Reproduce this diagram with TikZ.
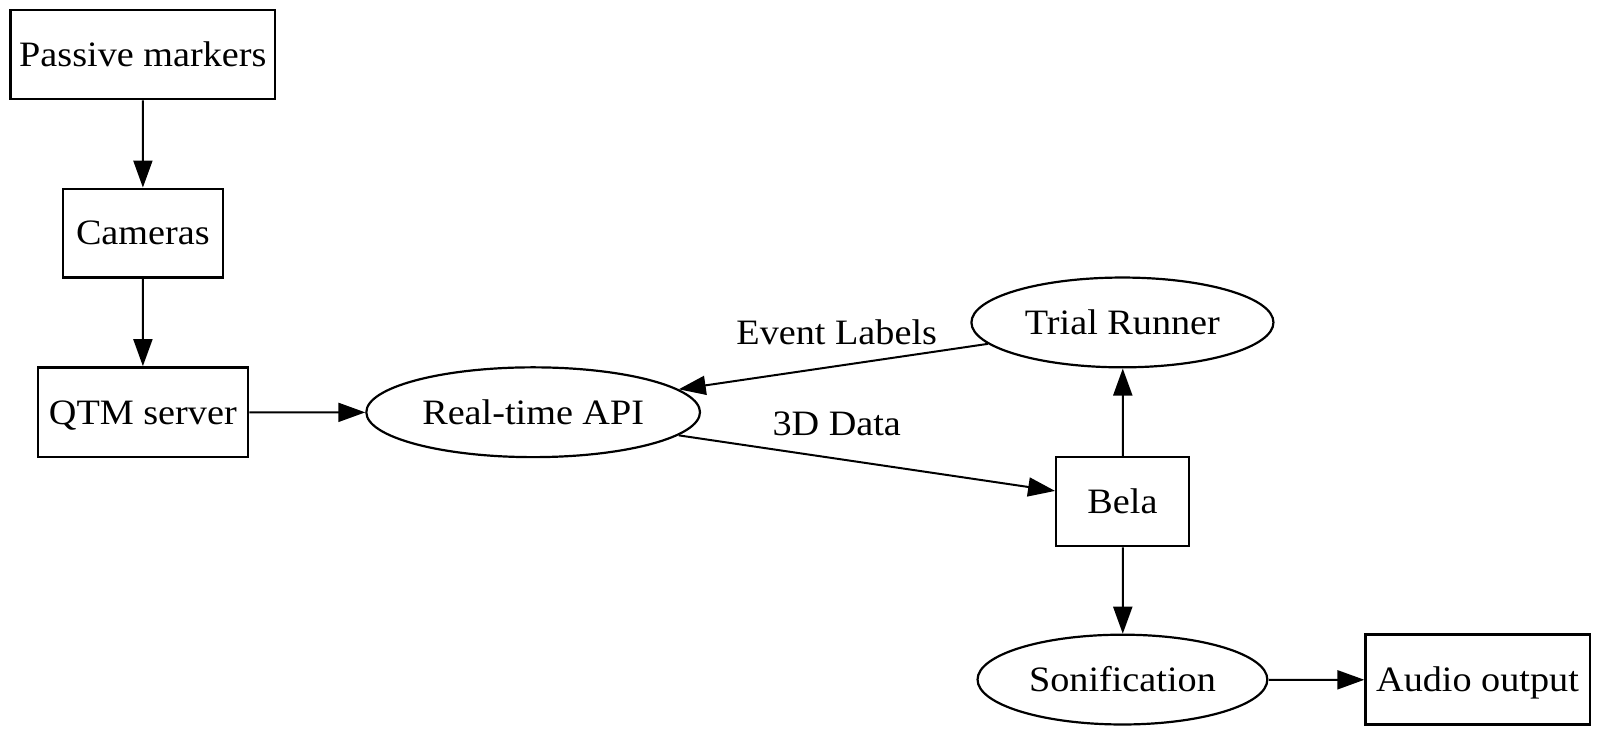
\documentclass[tikz,border=0pt]{standalone}
\usepackage{fontspec}
\setmainfont{Liberation Serif}[FakeStretch=1.07]
\usetikzlibrary{shapes.geometric,arrows.meta}
\begin{document}
\begin{tikzpicture}[x=0.5pt,y=-0.5pt,scale=1.0204,
  every node/.style={font=\fontsize{17.5}{20}\selectfont,transform shape,text height=11.6pt,text depth=0pt},
  boxnode/.style={draw,line width=1.25pt,rectangle,inner sep=0pt},
  ellnode/.style={draw,line width=1.1pt,ellipse,inner sep=0pt},
  edge/.style={line width=1pt,-{Triangle[length=13.5pt,width=9.5pt]}},
  lbl/.style={inner sep=0pt}]
\useasboundingbox (0,0) rectangle (1568,720.3);
\node[boxnode,minimum width=129.5pt,minimum height=43.5pt] (pm) at (140,53.5) {Passive markers};
\node[boxnode,minimum width=78.5pt,minimum height=43.5pt] (cam) at (140,228.5) {Cameras};
\node[boxnode,minimum width=103pt,minimum height=44pt] (qtm) at (140,404) {QTM server};
\node[ellnode,minimum width=163.5pt,minimum height=44pt] (api) at (522.5,404) {Real-time API};
\node[ellnode,minimum width=148pt,minimum height=44pt] (tr) at (1100,316) {Trial Runner};
\node[boxnode,minimum width=65pt,minimum height=43.5pt] (bela) at (1100,491.5) {Bela};
\node[ellnode,minimum width=142pt,minimum height=44pt] (son) at (1100,666) {Sonification};
\node[boxnode,minimum width=110pt,minimum height=44pt] (ao) at (1448,666) {Audio output};
\draw[edge] (pm) -- (cam);
\draw[edge] (cam) -- (qtm);
\draw[edge] (qtm) -- (api);
\draw[edge] (tr.189) -- (api.9);
\draw[edge] (api.-9) -- (bela.171);
\draw[edge] (bela) -- (tr);
\draw[edge] (bela) -- (son);
\draw[edge] (son) -- (ao);
\node[lbl] (el) at (820,326) {Event Labels};
\node[lbl] (dd) at (820,415) {3D Data};
\end{tikzpicture}
\end{document}
